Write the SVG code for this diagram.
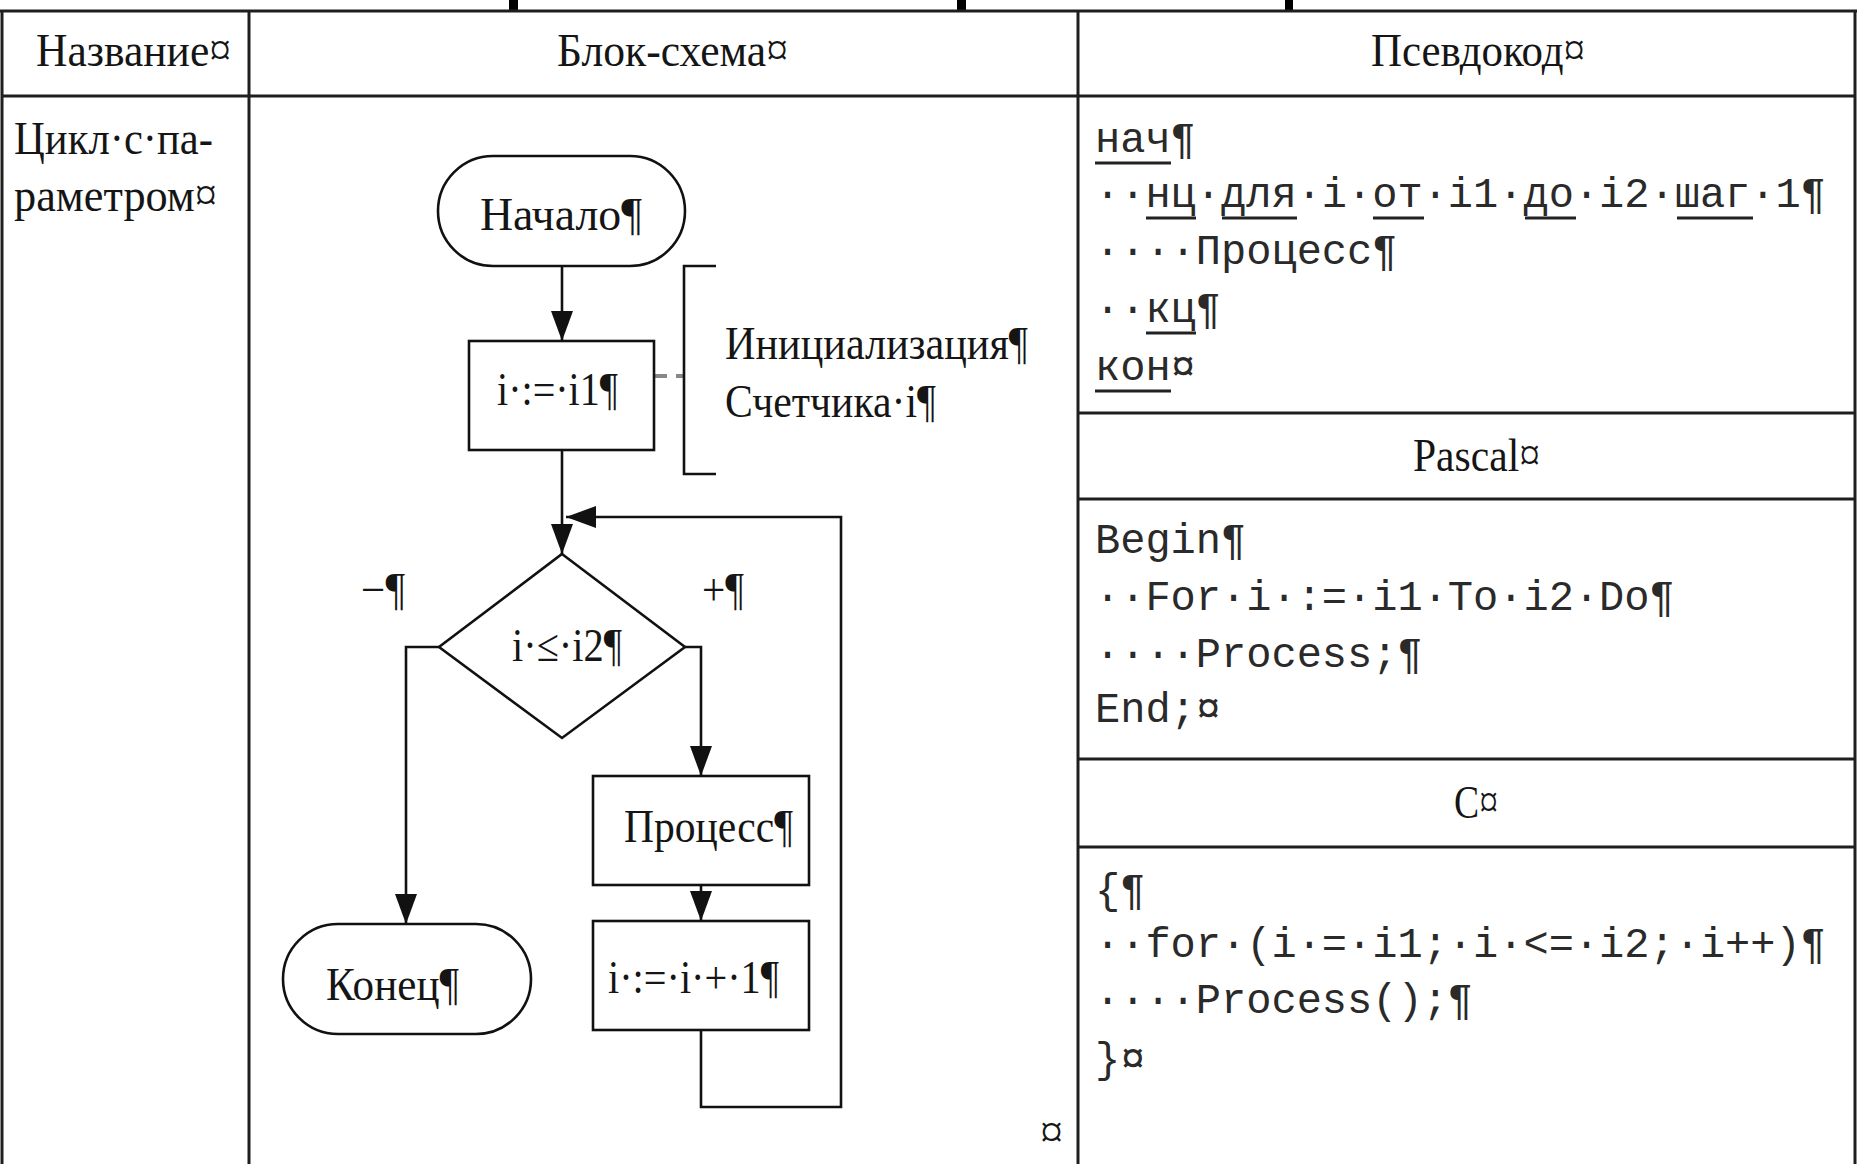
<svg xmlns="http://www.w3.org/2000/svg" width="1857" height="1164" viewBox="0 0 1857 1164">
<defs>
<style>
.tl{stroke:#1e1e1e;stroke-width:3;fill:none}
.fl{stroke:#111;stroke-width:2.6;fill:none}
.sh{stroke:#111;stroke-width:2.6;fill:#fff}
.se{font-family:"Liberation Serif","Times New Roman",serif;font-size:46px;fill:#151515}
.mo{font-family:"Liberation Mono","Courier New",monospace;font-size:42px;fill:#2a2a2a}
.ul{stroke:#222;stroke-width:3}
</style>
<marker id="arr" markerWidth="30" markerHeight="22" refX="30" refY="11" orient="auto" markerUnits="userSpaceOnUse">
<path d="M0,0 L30,11 L0,22 z" fill="#111"/>
</marker>
</defs>
<rect width="1857" height="1164" fill="#fff"/>

<g id="title-fragments" fill="#000">
<rect x="509" y="0" width="9" height="10"/>
<rect x="957" y="0" width="9" height="10"/>
<rect x="1285" y="0" width="8" height="10"/>
</g>

<g id="table">
<line class="tl" x1="0" y1="11" x2="1857" y2="11"/>
<line class="tl" x1="2" y1="11" x2="2" y2="1164"/>
<line class="tl" x1="1855" y1="11" x2="1855" y2="1164"/>
<line class="tl" x1="249" y1="11" x2="249" y2="1164"/>
<line class="tl" x1="1078" y1="11" x2="1078" y2="1164"/>
<line class="tl" x1="2" y1="96" x2="1855" y2="96"/>
<line class="tl" x1="1078" y1="413" x2="1855" y2="413"/>
<line class="tl" x1="1078" y1="499" x2="1855" y2="499"/>
<line class="tl" x1="1078" y1="759" x2="1855" y2="759"/>
<line class="tl" x1="1078" y1="847" x2="1855" y2="847"/>
</g>

<g id="headers">
<text class="se" x="36" y="66" textLength="195" lengthAdjust="spacingAndGlyphs">Название¤</text>
<text class="se" x="557" y="66" textLength="231" lengthAdjust="spacingAndGlyphs">Блок-схема¤</text>
<text class="se" x="1371" y="66" textLength="214" lengthAdjust="spacingAndGlyphs">Псевдокод¤</text>
<text class="se" x="14" y="154" textLength="199" lengthAdjust="spacingAndGlyphs">Цикл·с·па-</text>
<text class="se" x="14" y="211" textLength="203" lengthAdjust="spacingAndGlyphs">раметром¤</text>
<text class="se" x="1413" y="471" textLength="127" lengthAdjust="spacingAndGlyphs">Pascal¤</text>
<text class="se" x="1454" y="818" textLength="44" lengthAdjust="spacingAndGlyphs">C¤</text>
<text class="se" x="1040" y="1148">¤</text>
</g>

<g id="pseudocode">
<text class="mo" x="1095" y="152">нач¶</text>
<text class="mo" x="1095" y="207">··нц·для·i·от·i1·до·i2·шаг·1¶</text>
<text class="mo" x="1095" y="264">····Процесс¶</text>
<text class="mo" x="1095" y="322">··кц¶</text>
<text class="mo" x="1095" y="380">кон¤</text>
<line class="ul" x1="1095" y1="163" x2="1171" y2="163"/>
<line class="ul" x1="1146" y1="218" x2="1196" y2="218"/>
<line class="ul" x1="1222" y1="218" x2="1297" y2="218"/>
<line class="ul" x1="1373" y1="218" x2="1424" y2="218"/>
<line class="ul" x1="1525" y1="218" x2="1576" y2="218"/>
<line class="ul" x1="1677" y1="218" x2="1753" y2="218"/>
<line class="ul" x1="1146" y1="333" x2="1196" y2="333"/>
<line class="ul" x1="1095" y1="391" x2="1171" y2="391"/>
</g>

<g id="pascal">
<text class="mo" x="1095" y="553">Begin¶</text>
<text class="mo" x="1095" y="610">··For·i·:=·i1·To·i2·Do¶</text>
<text class="mo" x="1095" y="667">····Process;¶</text>
<text class="mo" x="1095" y="722">End;¤</text>
</g>

<g id="c-code">
<text class="mo" x="1095" y="903">{¶</text>
<text class="mo" x="1095" y="957">··for·(i·=·i1;·i·&lt;=·i2;·i++)¶</text>
<text class="mo" x="1095" y="1013">····Process();¶</text>
<text class="mo" x="1095" y="1072">}¤</text>
</g>

<g id="connectors">
<path class="fl" d="M562,266 V341" marker-end="url(#arr)"/>
<path class="fl" d="M562,450 V554" marker-end="url(#arr)"/>
<path class="fl" d="M701,1030 V1107 H841 V517 H566" marker-end="url(#arr)"/>
<path class="fl" d="M439,647 H406 V924" marker-end="url(#arr)"/>
<path class="fl" d="M685,647 H701 V776" marker-end="url(#arr)"/>
<path class="fl" d="M701,885 V921" marker-end="url(#arr)"/>
<path d="M654,376 H684" stroke="#888" stroke-width="4" stroke-dasharray="13,9" fill="none"/>
</g>

<g id="node-start">
<rect class="sh" x="438" y="156" width="247" height="110" rx="55" ry="55"/>
<text class="se" x="480" y="230" textLength="162" lengthAdjust="spacingAndGlyphs">Начало¶</text>
</g>

<g id="node-init">
<rect class="sh" x="469" y="341" width="185" height="109"/>
<text class="se" x="497" y="405" textLength="121" lengthAdjust="spacingAndGlyphs">i·:=·i1¶</text>
</g>

<g id="node-init-note">
<path class="fl" d="M716,266 H684 V474 H716"/>
<text class="se" x="725" y="359" textLength="303" lengthAdjust="spacingAndGlyphs">Инициализация¶</text>
<text class="se" x="725" y="417" textLength="211" lengthAdjust="spacingAndGlyphs">Счетчика·i¶</text>
</g>

<g id="node-cond">
<polygon class="sh" points="562,554 685,647 562,738 439,647"/>
<text class="se" x="512" y="661" textLength="110" lengthAdjust="spacingAndGlyphs">i·≤·i2¶</text>
<text class="se" x="361" y="605" textLength="44" lengthAdjust="spacingAndGlyphs">−¶</text>
<text class="se" x="702" y="605" textLength="42" lengthAdjust="spacingAndGlyphs">+¶</text>
</g>

<g id="node-process">
<rect class="sh" x="593" y="776" width="216" height="109"/>
<text class="se" x="624" y="842" textLength="169" lengthAdjust="spacingAndGlyphs">Процесс¶</text>
</g>

<g id="node-inc">
<rect class="sh" x="593" y="921" width="216" height="109"/>
<text class="se" x="608" y="993" textLength="171" lengthAdjust="spacingAndGlyphs">i·:=·i·+·1¶</text>
</g>

<g id="node-end">
<rect class="sh" x="283" y="924" width="248" height="110" rx="55" ry="55"/>
<text class="se" x="326" y="1000" textLength="133" lengthAdjust="spacingAndGlyphs">Конец¶</text>
</g>
</svg>
